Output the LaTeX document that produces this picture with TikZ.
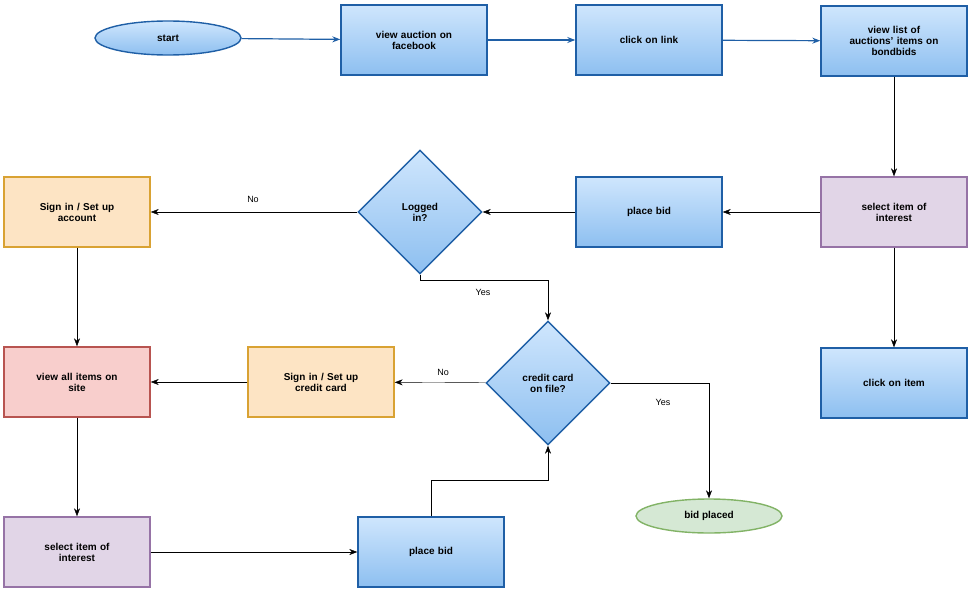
\documentclass[tikz,border=0pt]{standalone}
\usepackage{fontspec}
\setmainfont{Liberation Sans}
\usetikzlibrary{shapes.geometric,arrows.meta,positioning}

\definecolor{bluedge}{HTML}{1F5FA6}
\definecolor{bluetop}{HTML}{CFE6FD}
\definecolor{bluebot}{HTML}{8DBFF0}

\begin{document}
\begin{tikzpicture}[
    x=1pt, y=-1pt,
    font=\bfseries\fontsize{10}{11}\selectfont,
    bluebox/.style={rectangle, draw=bluedge, line width=1.4pt, top color=bluetop, bottom color=bluebot, minimum width=146pt, minimum height=70pt, align=center, text width=120pt},
    orangebox/.style={bluebox, draw={rgb,255:red,217;green,162;blue,51}, top color={rgb,255:red,253;green,228;blue,196}, bottom color={rgb,255:red,253;green,228;blue,196}},
    redbox/.style={bluebox, draw={rgb,255:red,184;green,84;blue,80}, top color={rgb,255:red,248;green,206;blue,204}, bottom color={rgb,255:red,248;green,206;blue,204}},
    purplebox/.style={bluebox, draw={rgb,255:red,150;green,115;blue,166}, top color={rgb,255:red,225;green,213;blue,231}, bottom color={rgb,255:red,225;green,213;blue,231}},
    decision/.style={diamond, draw=bluedge, line width=1.4pt, top color=bluetop, bottom color=bluebot, minimum width=124pt, minimum height=124pt, align=center, inner sep=0pt},
    terminal/.style={ellipse, draw=bluedge, line width=1.4pt, top color=bluetop, bottom color=bluebot, minimum width=146pt, minimum height=34pt},
    arrow/.style={-{Stealth[length=8pt,width=6pt]}, thin},
    toparrow/.style={-{Stealth[length=8pt,width=6pt]}, draw=bluedge, line width=1.2pt},
    lbl/.style={font=\fontsize{9}{10}\selectfont}
]
\useasboundingbox (0,0) rectangle (971,594);

\node[terminal] (start) at (168,38) {start};
\node[bluebox] (auction) at (414,40) {view auction on\\facebook};
\node[bluebox] (link) at (649,40) {click on link};
\node[bluebox] (list) at (894,41) {view list of\\auctions' items on\\bondbids};
\node[purplebox] (select1) at (894,212) {select item of\\interest};
\node[bluebox] (bid1) at (649,212) {place bid};
\node[decision] (logged) at (420,212) {Logged\\in?};
\node[orangebox] (account) at (77,212) {Sign in / Set up\\account};
\node[bluebox] (item) at (894,383) {click on item};
\node[decision] (card) at (548,383) {credit card\\on file?};
\node[orangebox] (setcard) at (321,382) {Sign in / Set up\\credit card};
\node[redbox] (all) at (77,382) {view all items on\\site};
\node[purplebox] (select2) at (77,552) {select item of\\interest};
\node[bluebox] (bid2) at (431,552) {place bid};
\node[terminal, draw={rgb,255:red,130;green,179;blue,102}, top color={rgb,255:red,213;green,232;blue,212}, bottom color={rgb,255:red,213;green,232;blue,212}] (placed) at (709,516) {bid placed};

% labels
\node[lbl] (no1) at (253,199) {No};
\node[lbl] (yes1) at (483,292) {Yes};
\node[lbl] (no2) at (443,372) {No};
\node[lbl] (yes2) at (663,402) {Yes};

\draw[toparrow] (start) -- (auction);
\draw[toparrow] (auction) -- (link);
\draw[toparrow] (link) -- (list);
\draw[arrow] (list) -- (select1);
\draw[arrow] (select1) -- (bid1);
\draw[arrow] (bid1) -- (logged);
\draw[arrow] (logged) -- (account);
\draw[arrow] (logged.south) |- (548,280) -- (card.north);
\draw[arrow] (select1) -- (item);
\draw[arrow] (account) -- (all);
\draw[arrow] (card) -- (setcard);
\draw[arrow] (card.east) -| (placed.north);
\draw[arrow] (setcard) -- (all);
\draw[arrow] (all) -- (select2);
\draw[arrow] (select2) -- (bid2);
\draw[arrow] (bid2.north) |- (548,480) -- (card.south);
\end{tikzpicture}
\end{document}
